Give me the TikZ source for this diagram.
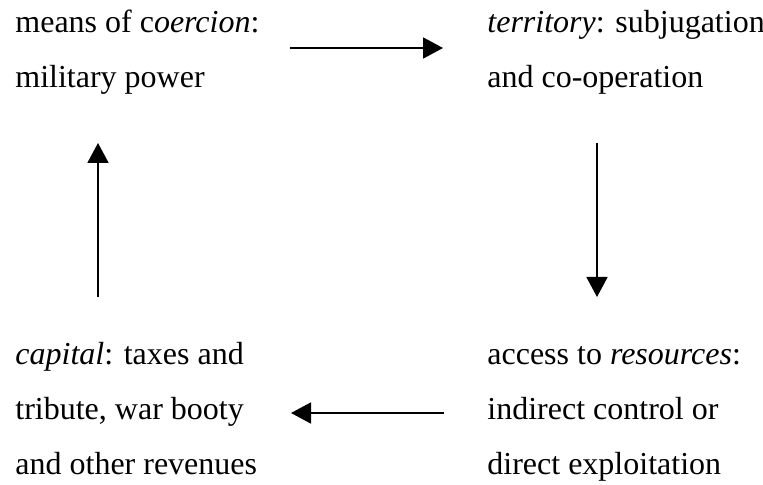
\documentclass[tikz,border=0pt]{standalone}
\usepackage{fontspec}
\setmainfont{Liberation Serif}
\usetikzlibrary{arrows.meta}

\begin{document}
\begin{tikzpicture}[x=0.5pt,y=-0.5pt,
            txt/.style={anchor=base west,inner sep=0pt,align=left,font=\fontsize{16}{27.5}\selectfont},
            arr/.style={line width=0.9pt,-{Triangle[length=10pt,width=10.5pt]}}]
            \useasboundingbox (0,0) rectangle (763,485);
            % anchor = baseline of the last line
            \node[txt] (coercion) at (15,88) {means of c\textit{oercion}:\\military power};
            \node[txt] (territory) at (487,88) {\textit{territory}: subjugation\\and co-operation};
            \node[txt] (capital) at (15,474) {\textit{capital}: taxes and\\tribute, war booty\\and other revenues};
            \node[txt] (resources) at (487,474) {access to \textit{resources}:\\indirect control or\\direct exploitation};
            \coordinate (ct1) at (290,48);
            \coordinate (ct2) at (443,48);
            \coordinate (tr1) at (597,143);
            \coordinate (tr2) at (597,297);
            \coordinate (rc1) at (444,413);
            \coordinate (rc2) at (291,413);
            \coordinate (cc1) at (98,297);
            \coordinate (cc2) at (98,143);
            \draw[arr] (ct1) -- (ct2);
            \draw[arr] (tr1) -- (tr2);
            \draw[arr] (rc1) -- (rc2);
            \draw[arr] (cc1) -- (cc2);
        \end{tikzpicture}
\end{document}
